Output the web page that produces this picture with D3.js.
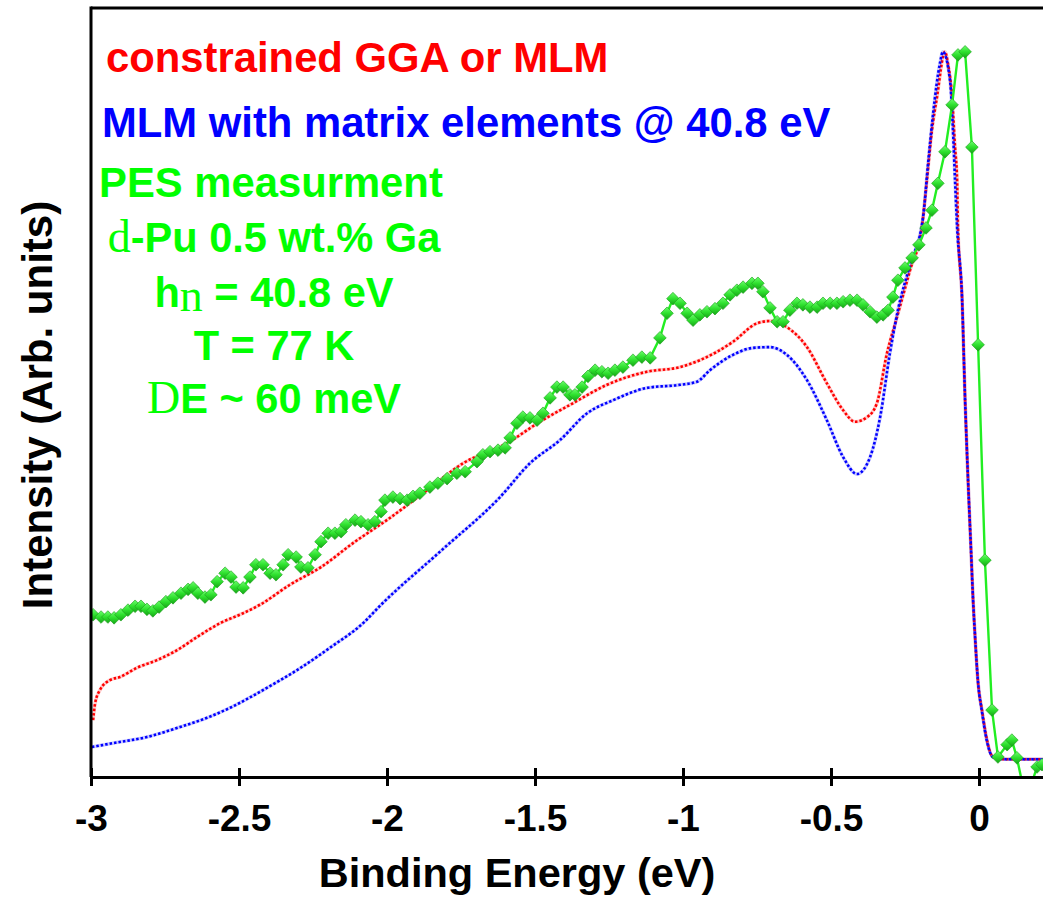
<!DOCTYPE html>
<html><head><meta charset="utf-8">
<script src="https://cdn.jsdelivr.net/npm/d3@7"></script>
<style>html,body{margin:0;padding:0;background:#fff;} svg{display:block;}</style>
</head><body>
<svg id="chart" width="1043" height="901"></svg>
<script>
// ---------------- data ----------------
const ggaEnergy = [-2.993,-2.986,-2.970,-2.936,-2.902,-2.845,-2.777,-2.709,-2.642,-2.564,-2.486,-2.429,-2.328,-2.223,-2.108,-1.997,-1.878,-1.743,-1.595,-1.483,-1.372,-1.257,-1.122,-1.010,-0.943,-0.831,-0.750,-0.706,-0.649,-0.581,-0.514,-0.459,-0.419,-0.378,-0.345,-0.311,-0.277,-0.233,-0.193,-0.176,-0.159,-0.142,-0.115,-0.105,-0.091,-0.081,-0.074,-0.071,-0.057,-0.047,-0.037,-0.027,-0.020,-0.014,-0.003,0.010,0.027,0.047,0.095,0.216];
const ggaIntensity = [7.4,9.6,11.3,12.6,13.0,14.2,15.2,16.5,18.2,20.0,21.3,22.4,25.0,27.3,30.6,33.5,36.9,40.8,43.4,46.2,48.6,51.0,52.7,53.3,54.2,56.6,59.0,59.3,58.5,55.9,51.2,47.7,46.2,46.8,48.6,55.1,59.8,65.9,71.5,77.6,84.1,88.4,94.3,92.8,88.4,81.9,77.6,71.5,62.0,49.0,38.6,29.5,23.0,18.7,12.2,8.7,4.8,2.6,2.3,2.3];

const mlmEnergy = [-2.997,-2.926,-2.811,-2.699,-2.608,-2.530,-2.419,-2.304,-2.193,-2.081,-2.020,-1.821,-1.618,-1.517,-1.416,-1.324,-1.236,-1.122,-1.010,-0.953,-0.909,-0.831,-0.764,-0.706,-0.649,-0.581,-0.514,-0.459,-0.412,-0.368,-0.334,-0.301,-0.274,-0.233,-0.189,-0.172,-0.155,-0.132,-0.122,-0.098,-0.088,-0.081,-0.074,-0.057,-0.047,-0.037,-0.027,-0.020,-0.014,-0.003,0.010,0.027,0.047,0.095,0.216];
const mlmIntensity = [3.9,4.4,5.2,6.5,7.7,9.0,11.3,13.9,16.8,20.0,22.4,29.3,36.4,40.8,43.8,47.3,49.0,50.6,51.0,51.4,52.9,54.9,55.8,55.9,54.9,51.6,46.4,41.6,39.4,41.6,46.8,55.1,60.7,66.6,72.8,79.8,86.3,92.8,94.3,90.6,84.1,77.6,71.5,62.0,49.0,38.6,29.5,23.0,18.7,12.2,8.5,4.6,2.6,2.3,2.3];

const pesEnergy = [-2.993,-2.966,-2.943,-2.922,-2.899,-2.875,-2.851,-2.831,-2.811,-2.791,-2.770,-2.747,-2.723,-2.696,-2.672,-2.655,-2.639,-2.615,-2.595,-2.574,-2.547,-2.527,-2.510,-2.486,-2.463,-2.443,-2.419,-2.395,-2.375,-2.351,-2.334,-2.307,-2.291,-2.267,-2.243,-2.223,-2.199,-2.176,-2.155,-2.139,-2.108,-2.088,-2.064,-2.041,-2.020,-2.007,-1.980,-1.956,-1.932,-1.912,-1.889,-1.855,-1.828,-1.797,-1.764,-1.736,-1.696,-1.676,-1.652,-1.625,-1.601,-1.584,-1.561,-1.541,-1.517,-1.493,-1.473,-1.449,-1.426,-1.405,-1.382,-1.365,-1.341,-1.321,-1.297,-1.274,-1.253,-1.230,-1.203,-1.169,-1.139,-1.111,-1.078,-1.054,-1.034,-1.010,-0.986,-0.966,-0.943,-0.919,-0.892,-0.865,-0.841,-0.818,-0.797,-0.767,-0.747,-0.730,-0.706,-0.682,-0.662,-0.639,-0.615,-0.595,-0.571,-0.547,-0.527,-0.503,-0.480,-0.459,-0.436,-0.412,-0.392,-0.368,-0.345,-0.324,-0.307,-0.291,-0.274,-0.250,-0.226,-0.203,-0.179,-0.159,-0.139,-0.115,-0.091,-0.071,-0.047,-0.024,-0.003,0.020,0.044,0.064,0.095,0.111,0.128,0.150,0.172,0.196,0.213];
const pesIntensity = [21.1,20.8,20.8,20.7,21.1,21.7,22.2,22.2,21.8,21.6,22.1,22.8,23.3,23.9,24.4,24.6,23.9,23.4,23.7,25.4,26.5,26.0,24.7,24.6,26.0,27.6,27.6,26.5,26.3,27.6,28.9,28.6,27.3,27.2,28.9,30.6,31.7,31.7,31.9,32.8,33.4,33.2,32.8,33.2,34.5,36.0,36.4,36.2,36.0,36.5,36.9,37.7,38.2,38.8,39.5,39.7,41.0,41.9,42.3,42.5,42.8,44.1,46.0,46.8,46.7,46.4,47.3,49.3,50.7,50.7,49.7,49.7,50.7,52.1,52.9,52.7,52.5,52.9,53.3,54.2,54.6,54.5,57.1,60.3,62.2,61.6,60.3,59.4,60.1,60.5,60.9,61.6,62.7,63.3,63.7,64.2,64.2,63.1,61.0,59.2,59.2,60.7,61.6,61.4,61.1,61.1,61.6,61.6,61.6,61.8,62.0,62.0,61.4,60.5,59.8,60.1,60.7,62.4,64.6,66.2,67.5,69.2,71.4,73.7,77.2,81.3,87.4,93.9,94.3,81.9,56.2,28.2,8.7,2.6,4.2,4.8,2.5,-1.5,-1.5,1.3,1.6];

const xTickValues = [-3, -2.5, -2, -1.5, -1, -0.5, 0];
const xTickLabels = ["-3", "-2.5", "-2", "-1.5", "-1", "-0.5", "0"];
const xDomain = [-3, 0.2162];
const yDomain = [0, 100];
const xTitle = "Binding Energy (eV)";
const yTitle = "Intensity (Arb. units)";
const legendLabels = ["constrained GGA or MLM", "MLM with matrix elements @ 40.8 eV", "PES measurment"];
// info lines: the symbol glyphs fell back to a serif face in the original
const infoLines = [["d", "-Pu 0.5 wt.% Ga"], ["h", "n", " = 40.8 eV"], ["", "T = 77 K"], ["D", "E ~ 60 meV"]];

// ---------------- layout ----------------
const svg = d3.select("#chart");
const plotLeft = 91, plotRight = 1043, plotTop = 8, plotBottom = 777;
const x = d3.scaleLinear().domain(xDomain).range([plotLeft, plotRight]);
const y = d3.scaleLinear().domain(yDomain).range([plotBottom, plotTop]);
const sans = "'Liberation Sans', Arial, sans-serif";
const serif = "'Liberation Serif', 'Times New Roman', serif";
const RED = "#ff0000", BLUE = "#0000ff", GREEN = "#00ff00";

svg.append("rect").attr("width", 1043).attr("height", 901).attr("fill", "#fff");

const defs = svg.append("defs");
defs.append("clipPath").attr("id", "clip")
  .append("rect").attr("x", plotLeft).attr("y", plotTop)
  .attr("width", plotRight - plotLeft).attr("height", plotBottom - plotTop);
const grad = defs.append("linearGradient").attr("id", "dgrad")
  .attr("x1", "0").attr("y1", "0").attr("x2", "1").attr("y2", "1");
grad.append("stop").attr("offset", "0").attr("stop-color", "#6cff6c");
grad.append("stop").attr("offset", "0.5").attr("stop-color", "#2ee02e");
grad.append("stop").attr("offset", "1").attr("stop-color", "#16a416");

const plot = svg.append("g").attr("clip-path", "url(#clip)");

const line = d3.line().x(d => x(d[0])).y(d => y(d[1])).curve(d3.curveMonotoneX);

function dottedCurve(energy, intensity, color) {
  const data = d3.zip(energy, intensity);
  plot.append("path").datum(data).attr("d", line)
    .attr("fill", "none").attr("stroke", color).attr("stroke-opacity", 0.2).attr("stroke-width", 3.5);
  plot.append("path").datum(data).attr("d", line)
    .attr("fill", "none").attr("stroke", color).attr("stroke-width", 2.6)
    .attr("stroke-dasharray", "2.5 2");
}
dottedCurve(ggaEnergy, ggaIntensity, RED);
dottedCurve(mlmEnergy, mlmIntensity, BLUE);

const pes = d3.zip(pesEnergy, pesIntensity);
plot.append("path").datum(pes).attr("d", d3.line().x(d => x(d[0])).y(d => y(d[1])))
  .attr("fill", "none").attr("stroke", "#22ee22").attr("stroke-width", 2.4);
const diamond = d3.symbol().type(d3.symbolSquare).size(80);
plot.selectAll("path.pm").data(pes).join("path").attr("class", "pm")
  .attr("d", diamond)
  .attr("transform", d => `translate(${x(d[0])},${y(d[1])}) rotate(45)`)
  .attr("fill", "url(#dgrad)").attr("stroke", "#1c9e1c").attr("stroke-width", 0.6);

// frame lines
svg.append("line").attr("x1", plotLeft).attr("x2", plotRight).attr("y1", plotTop).attr("y2", plotTop)
  .attr("stroke", "#000").attr("stroke-width", 3);
svg.append("line").attr("x1", plotLeft).attr("x2", plotLeft).attr("y1", plotTop - 1.5).attr("y2", plotBottom)
  .attr("stroke", "#000").attr("stroke-width", 3);

// x axis
const xAxis = d3.axisBottom(x).tickValues(xTickValues)
  .tickFormat((d, i) => xTickLabels[i]).tickSizeInner(9).tickSizeOuter(0).tickPadding(4);
const gx = svg.append("g").attr("transform", `translate(0,${plotBottom})`).call(xAxis);
gx.select(".domain").attr("stroke", "#000").attr("stroke-width", 3);
gx.selectAll(".tick line").attr("y1", -9).attr("y2", 9).attr("stroke", "#000").attr("stroke-width", 3);
gx.selectAll(".tick text").attr("y", 54).attr("dy", null)
  .attr("font-family", sans).attr("font-weight", "bold").attr("font-size", 37).attr("fill", "#000");

svg.append("text").attr("x", 517).attr("y", 887).attr("text-anchor", "middle")
  .attr("font-family", sans).attr("font-weight", "bold").attr("font-size", 41.5).text(xTitle);

svg.append("text").attr("transform", "translate(52,405) rotate(-90)").attr("text-anchor", "middle")
  .attr("font-family", sans).attr("font-weight", "bold").attr("font-size", 42).text(yTitle);

// legend
const legendColors = [RED, BLUE, GREEN];
const legendX = [106, 102, 99];
const legendY = [72, 137, 197];
legendLabels.forEach((t, i) => {
  svg.append("text").attr("x", legendX[i]).attr("y", legendY[i])
    .attr("font-family", sans).attr("font-weight", "bold").attr("font-size", 41.8)
    .attr("fill", legendColors[i]).text(t);
});

const infoY = [252, 307, 360, 413];
infoLines.forEach((parts, i) => {
  const t = svg.append("text").attr("x", 274).attr("y", infoY[i]).attr("text-anchor", "middle")
    .attr("font-size", 41.6).attr("fill", GREEN);
  if (parts.length === 3) {
    t.append("tspan").attr("font-family", sans).attr("font-weight", "bold").text(parts[0]);
    t.append("tspan").attr("font-family", serif).attr("font-weight", "normal").attr("font-size", 46).attr("dy", 4).text(parts[1]);
    t.append("tspan").attr("font-family", sans).attr("font-weight", "bold").attr("dy", -4).text(parts[2]);
  } else {
    if (parts[0]) t.append("tspan").attr("font-family", serif).attr("font-weight", "normal").attr("font-size", 46).text(parts[0]);
    t.append("tspan").attr("font-family", sans).attr("font-weight", "bold").text(parts[1]);
  }
});
</script>
</body></html>
